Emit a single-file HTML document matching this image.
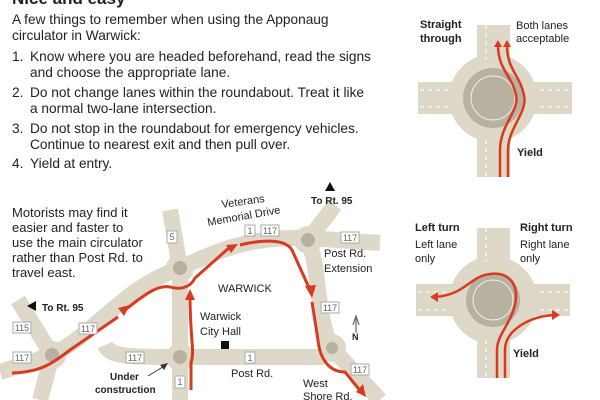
<!DOCTYPE html>
<html><head><meta charset="utf-8"><style>
html,body{margin:0;padding:0;background:#fff;width:600px;height:400px;overflow:hidden}
svg{display:block}
text{font-family:"Liberation Sans",sans-serif;fill:#222}
.b{font-weight:bold}
.sh rect{fill:#fff;stroke:#aaa;stroke-width:1}
.sh text{font-size:9px;fill:#666;text-anchor:middle}
</style></head><body>
<svg width="600" height="400" viewBox="0 0 600 400">
<text x="12" y="4" class="b" font-size="17">Nice and easy</text>
<g font-size="13.7">
<text x="12" y="24">A few things to remember when using the Apponaug</text>
<text x="12" y="40">circulator in Warwick:</text>
<text x="12" y="61">1.</text><text x="30" y="61">Know where you are headed beforehand, read the signs</text>
<text x="30" y="77">and choose the appropriate lane.</text>
<text x="12" y="97">2.</text><text x="30" y="97">Do not change lanes within the roundabout. Treat it like</text>
<text x="30" y="113">a normal two-lane intersection.</text>
<text x="12" y="133">3.</text><text x="30" y="133">Do not stop in the roundabout for emergency vehicles.</text>
<text x="30" y="149">Continue to nearest exit and then pull over.</text>
<text x="12" y="168">4.</text><text x="30" y="168">Yield at entry.</text>
</g>
<g fill="none" stroke="#ddd8c8" stroke-width="16" stroke-linecap="butt">
<path d="M0,372 L52,355 C100,330 120,290 180,268 C220,250 250,236 308,238 L380,243"/>
<path d="M308,240 C320,270 315,300 328,340 L332,348 L380,400"/>
<path d="M308,240 L335,205"/>
<path d="M170,210 L180,268 L180,400"/>
<path d="M18,300 L52,355 L40,400"/>
<path d="M105,345 C110,357 130,357 180,357 L320,357 L332,348"/>
</g>
<g>
<circle cx="52" cy="355" r="14" fill="#ddd8c8"/><circle cx="52" cy="355" r="7" fill="#b8b0a0"/>
<circle cx="180" cy="268" r="14" fill="#ddd8c8"/><circle cx="180" cy="268" r="7" fill="#b8b0a0"/>
<circle cx="180" cy="357" r="14" fill="#ddd8c8"/><circle cx="180" cy="357" r="7" fill="#b8b0a0"/>
<circle cx="308" cy="240" r="14" fill="#ddd8c8"/><circle cx="308" cy="240" r="7" fill="#b8b0a0"/>
<circle cx="332" cy="348" r="14" fill="#ddd8c8"/><circle cx="332" cy="348" r="6" fill="#b8b0a0"/>
</g>
<g fill="none" stroke="#d93a1e" stroke-width="3">
<path d="M12,373 C40,372 50,365 70,350 L118,317"/>
<path d="M125,310 C150,290 160,285 170,287 C180,290 190,288 195,278 L230,247"/>
<path d="M240,245 C260,240 285,238 292,250 L310,290"/>
<path d="M312,302 L318,340 C320,360 330,372 345,372 L362,393"/>
<path d="M191,390 L191,363 C195,350 190,340 190,295"/>
</g>
<g fill="#d93a1e">
<polygon points="130,305 118,308 124,316"/>
<polygon points="238,244 226,245 231,253"/>
<polygon points="312,298 305,286 316,285"/>
<polygon points="366,397 356,392 363,384"/>
<polygon points="190,289 185,300 195,300"/>
</g>
<g class="sh">
<rect x="167" y="231" width="10" height="12"/><text x="172" y="240">5</text>
<rect x="245" y="225" width="10" height="11"/><text x="250" y="234">1</text>
<rect x="261" y="225" width="18" height="11"/><text x="270" y="234">117</text>
<rect x="341" y="232" width="18" height="11"/><text x="350" y="241">117</text>
<rect x="321" y="302" width="18" height="11"/><text x="330" y="311">117</text>
<rect x="13" y="322" width="18" height="11"/><text x="22" y="331">115</text>
<rect x="79" y="323" width="18" height="11"/><text x="88" y="332">117</text>
<rect x="13" y="352" width="18" height="11"/><text x="22" y="361">117</text>
<rect x="126" y="352" width="18" height="11"/><text x="135" y="361">117</text>
<rect x="245" y="352" width="10" height="11"/><text x="250" y="361">1</text>
<rect x="175" y="376" width="10" height="12"/><text x="180" y="385">1</text>
<rect x="351" y="364" width="18" height="11"/><text x="360" y="373">117</text>
</g>
<g font-size="13">
<text x="12" y="217">Motorists may find it</text>
<text x="12" y="232">easier and faster  to</text>
<text x="12" y="247">use the main circulator</text>
<text x="12" y="262">rather than Post Rd. to</text>
<text x="12" y="277">travel east.</text>
</g>
<g font-size="11">
<text x="222" y="208" transform="rotate(-8 222 208)">Veterans</text>
<text x="208" y="226" transform="rotate(-10 208 226)">Memorial Drive</text>
<text x="218" y="292">WARWICK</text>
<text x="200" y="320">Warwick</text><text x="200" y="335">City Hall</text>
<text x="324" y="257">Post Rd.</text><text x="324" y="272">Extension</text>
<text x="231" y="377">Post Rd.</text>
<text x="303" y="387">West</text><text x="303" y="400">Shore Rd.</text>
</g>
<g font-size="10" class="b">
<text x="311" y="204">To Rt. 95</text>
<text x="42" y="311">To Rt. 95</text>
<text x="110" y="380">Under</text><text x="95" y="393">construction</text>
<text x="352" y="340" font-size="9" fill="#666">N</text>
</g>
<polygon points="330,182 325,191 335,191" fill="#111"/>
<polygon points="27,306 36,301 36,311" fill="#111"/>
<rect x="221" y="341" width="8" height="8" fill="#111"/>
<path d="M356,333 L356,318 M353,325 L356,316 L359,325" stroke="#666" fill="none" stroke-width="1.2"/>
<path d="M148,376 L166,365" stroke="#333" stroke-width="1"/><polygon points="168,363 160,365 164,370" fill="#333"/>

<g>
<rect x="477" y="25" width="33" height="152" fill="#ddd8c8"/>
<rect x="418" y="82" width="154" height="32" fill="#ddd8c8"/>
<circle cx="493" cy="98" r="44" fill="#ddd8c8"/>
<circle cx="493" cy="98" r="30" fill="#b8b0a0"/>
<circle cx="493" cy="98" r="22" fill="none" stroke="#eee" stroke-width="1"/>
<g stroke="#fff" stroke-width="1" stroke-dasharray="4,4" fill="none">
<path d="M486,25 V60 M486,140 V177 M420,90 H450 M540,90 H572 M420,107 H450 M540,107 H572"/>
</g>
<g fill="none" stroke="#d93a1e" stroke-width="2.5">
<path d="M500,177 V150 C500,125 520,110 516,95 C512,75 498,70 498,45"/>
<path d="M508,177 V150 C508,128 528,112 524,95 C520,75 507,70 507,45"/>
</g>
<polygon points="498,40 494,47 502,47" fill="#d93a1e"/>
<polygon points="507,40 503,47 511,47" fill="#d93a1e"/>
<text x="420" y="28" class="b" font-size="11">Straight</text>
<text x="420" y="42" class="b" font-size="11">through</text>
<text x="516" y="29" font-size="11">Both lanes</text>
<text x="516" y="42" font-size="11">acceptable</text>
<text x="517" y="156" class="b" font-size="11">Yield</text>
</g>
<g>
<rect x="477" y="228" width="33" height="150" fill="#ddd8c8"/>
<rect x="416" y="284" width="154" height="32" fill="#ddd8c8"/>
<circle cx="493" cy="300" r="44" fill="#ddd8c8"/>
<circle cx="493" cy="300" r="27" fill="#b8b0a0"/>
<circle cx="493" cy="300" r="20" fill="none" stroke="#eee" stroke-width="1"/>
<g stroke="#fff" stroke-width="1" stroke-dasharray="4,4" fill="none">
<path d="M486,228 V262 M486,340 V378 M418,292 H448 M540,292 H570 M418,310 H448 M540,310 H570"/>
</g>
<g fill="none" stroke="#d93a1e" stroke-width="2.5">
<path d="M497,378 V350 C497,335 510,325 515,305 C520,280 505,272 490,274 C470,276 465,295 435,297"/>
<path d="M505,378 V350 C505,330 530,316 555,315"/>
</g>
<polygon points="430,297 438,292 438,302" fill="#d93a1e"/>
<polygon points="560,315 552,310 552,320" fill="#d93a1e"/>
<text x="415" y="231" class="b" font-size="11">Left turn</text>
<text x="415" y="248" font-size="11">Left lane</text>
<text x="415" y="262" font-size="11">only</text>
<text x="520" y="231" class="b" font-size="11">Right turn</text>
<text x="520" y="248" font-size="11">Right lane</text>
<text x="520" y="262" font-size="11">only</text>
<text x="513" y="357" class="b" font-size="11">Yield</text>
</g>
</svg>
</body></html>
